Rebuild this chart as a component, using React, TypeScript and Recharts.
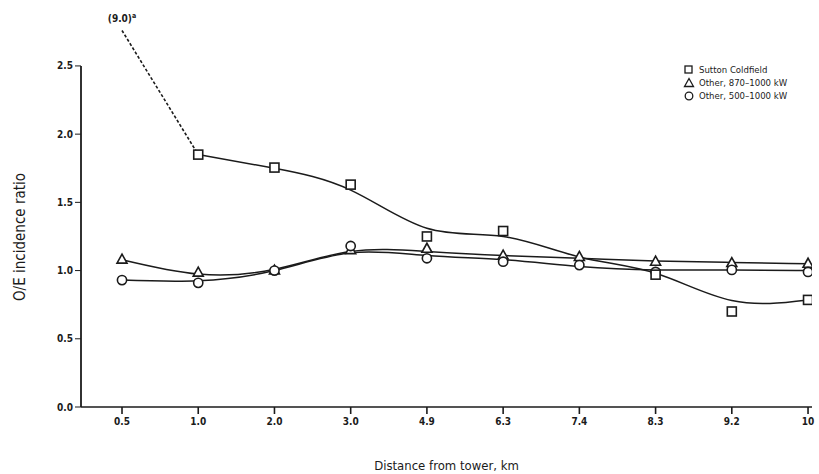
import React from 'react';
import { ComposedChart, Line, XAxis, YAxis, ReferenceLine } from 'recharts';

// distances from the tower (category labels on the x axis)
const distanceLabels = ['0.5', '1.0', '2.0', '3.0', '4.9', '6.3', '7.4', '8.3', '9.2', '10'];

// observed O/E ratios (markers)
const suttonObs = [null, 1.85, 1.755, 1.63, 1.25, 1.29, null, 0.97, 0.70, 0.785];
const tri870Obs = [1.08, 0.985, 1.0, 1.15, 1.16, 1.11, 1.10, 1.065, 1.055, 1.05];
const circ500Obs = [0.93, 0.91, 1.0, 1.18, 1.09, 1.065, 1.04, 0.99, 1.005, 0.99];

// smoothed curves
const suttonFit = [null, 1.85, 1.75, 1.59, 1.31, 1.25, 1.10, 0.98, 0.78, 0.785];
const tri870Fit = [1.08, 0.975, 1.01, 1.14, 1.14, 1.11, 1.09, 1.07, 1.06, 1.05];
const circ500Fit = [0.93, 0.925, 1.0, 1.13, 1.11, 1.08, 1.03, 1.005, 1.005, 1.0];

// off-scale first Sutton value, drawn at the top of the plot with a broken (dashed) line
const suttonOffScale = 9.0;
const suttonBreakDisplay = [2.76, 1.85, null, null, null, null, null, null, null, null];

const yTicks = [0, 0.5, 1.0, 1.5, 2.0, 2.5];
const xTicks = distanceLabels.map((_, i) => i);
const xDomain: [number, number] = [-0.538, 9.052];
const yDomain: [number, number] = [0, 2.8];

const data = distanceLabels.map((label, i) => ({
  idx: i,
  label,
  suttonObs: suttonObs[i],
  tri870Obs: tri870Obs[i],
  circ500Obs: circ500Obs[i],
  suttonFit: suttonFit[i],
  tri870Fit: tri870Fit[i],
  circ500Fit: circ500Fit[i],
  suttonBreak: suttonBreakDisplay[i],
}));

const INK = '#1b1b1b';
const FONT = '"DejaVu Sans Condensed", "Liberation Sans Narrow", "DejaVu Sans", sans-serif';

const SquareDot = (props: any) => {
  const { cx, cy, value } = props;
  if (value == null || cx == null || cy == null) return null;
  return <rect x={cx - 4.5} y={cy - 4.5} width={9} height={9} fill="#fff" stroke={INK} strokeWidth={1.6} />;
};

const TriangleDot = (props: any) => {
  const { cx, cy, value } = props;
  if (value == null || cx == null || cy == null) return null;
  return <path d={`M ${cx} ${cy - 5.5} L ${cx + 5} ${cy + 3.5} L ${cx - 5} ${cy + 3.5} Z`} fill="#fff" stroke={INK} strokeWidth={1.6} />;
};

const CircleDot = (props: any) => {
  const { cx, cy, value } = props;
  if (value == null || cx == null || cy == null) return null;
  return <circle cx={cx} cy={cy} r={4.6} fill="#fff" stroke={INK} strokeWidth={1.6} />;
};

const BreakLabel = (props: any) => {
  const { x, y, index } = props;
  if (index !== 0) return null;
  return (
    <text x={x} y={y - 8} textAnchor="middle" fontFamily={FONT} fontWeight="bold" fontSize={10} fill={INK}>
      ({suttonOffScale.toFixed(1)})
      <tspan fontSize={7} dy={-4}>a</tspan>
    </text>
  );
};

const legendItems = [
  { name: 'Sutton Coldfield', shape: 'square' },
  { name: 'Other, 870–1000 kW', shape: 'triangle' },
  { name: 'Other, 500–1000 kW', shape: 'circle' },
];

const LegendBox = () => (
  <div style={{ position: 'absolute', left: 683, top: 63, fontFamily: FONT, fontSize: 9.5, color: INK, lineHeight: '13px' }}>
    {legendItems.map((it) => (
      <div key={it.name} style={{ display: 'flex', alignItems: 'center', whiteSpace: 'nowrap' }}>
        <svg width={12} height={12} style={{ marginRight: 4 }}>
          {it.shape === 'square' && <rect x={2} y={2} width={7} height={7} fill="#fff" stroke={INK} strokeWidth={1.3} />}
          {it.shape === 'triangle' && <path d="M 6 1.5 L 10.5 9.5 L 1.5 9.5 Z" fill="#fff" stroke={INK} strokeWidth={1.3} />}
          {it.shape === 'circle' && <circle cx={6} cy={6} r={3.8} fill="#fff" stroke={INK} strokeWidth={1.3} />}
        </svg>
        <span>{it.name}</span>
      </div>
    ))}
  </div>
);

export default function App() {
  return (
    <div style={{ position: 'absolute', left: 0, top: 0, width: 819, height: 474, background: '#fff' }}>
      <ComposedChart width={819} height={474} data={data} margin={{ top: 25, right: 7, left: 0, bottom: 0 }}>
        <XAxis
          dataKey="idx"
          type="number"
          domain={xDomain}
          allowDataOverflow
          ticks={xTicks}
          interval={0}
          tickFormatter={(i: number) => distanceLabels[i] ?? ''}
          height={67}
          tickSize={7}
          stroke={INK}
          strokeWidth={1.6}
          tick={{ fill: INK, fontFamily: FONT, fontWeight: 'bold', fontSize: 10, dy: 2 }}
          label={{ value: 'Distance from tower, km', position: 'insideBottom', offset: 4, fill: INK, fontFamily: FONT, fontSize: 13 }}
        />
        <YAxis
          type="number"
          domain={yDomain}
          allowDataOverflow
          ticks={yTicks}
          interval={0}
          tickFormatter={(v: number) => v.toFixed(1)}
          width={81}
          tickSize={6}
          axisLine={false}
          stroke={INK}
          tick={{ fill: INK, fontFamily: FONT, fontWeight: 'bold', fontSize: 10 }}
          label={{ value: 'O/E incidence ratio', angle: -90, position: 'center', dx: -21, dy: 21, fill: INK, fontFamily: FONT, fontSize: 15 }}
        />
        <ReferenceLine
          segment={[{ x: xDomain[0], y: 0 }, { x: xDomain[0], y: yTicks[yTicks.length - 1] }]}
          stroke={INK}
          strokeWidth={1.8}
          ifOverflow="visible"
        />

        <Line dataKey="suttonBreak" type="linear" stroke={INK} strokeWidth={1.6} strokeDasharray="3 2" dot={false} label={<BreakLabel />} isAnimationActive={false} />
        <Line dataKey="suttonFit" type="natural" stroke={INK} strokeWidth={1.5} dot={false} isAnimationActive={false} />
        <Line dataKey="tri870Fit" type="natural" stroke={INK} strokeWidth={1.5} dot={false} isAnimationActive={false} />
        <Line dataKey="circ500Fit" type="natural" stroke={INK} strokeWidth={1.5} dot={false} isAnimationActive={false} />

        <Line dataKey="tri870Obs" stroke="none" dot={<TriangleDot />} activeDot={false} isAnimationActive={false} />
        <Line dataKey="circ500Obs" stroke="none" dot={<CircleDot />} activeDot={false} isAnimationActive={false} />
        <Line dataKey="suttonObs" stroke="none" dot={<SquareDot />} activeDot={false} isAnimationActive={false} />
      </ComposedChart>
      <LegendBox />
    </div>
  );
}
